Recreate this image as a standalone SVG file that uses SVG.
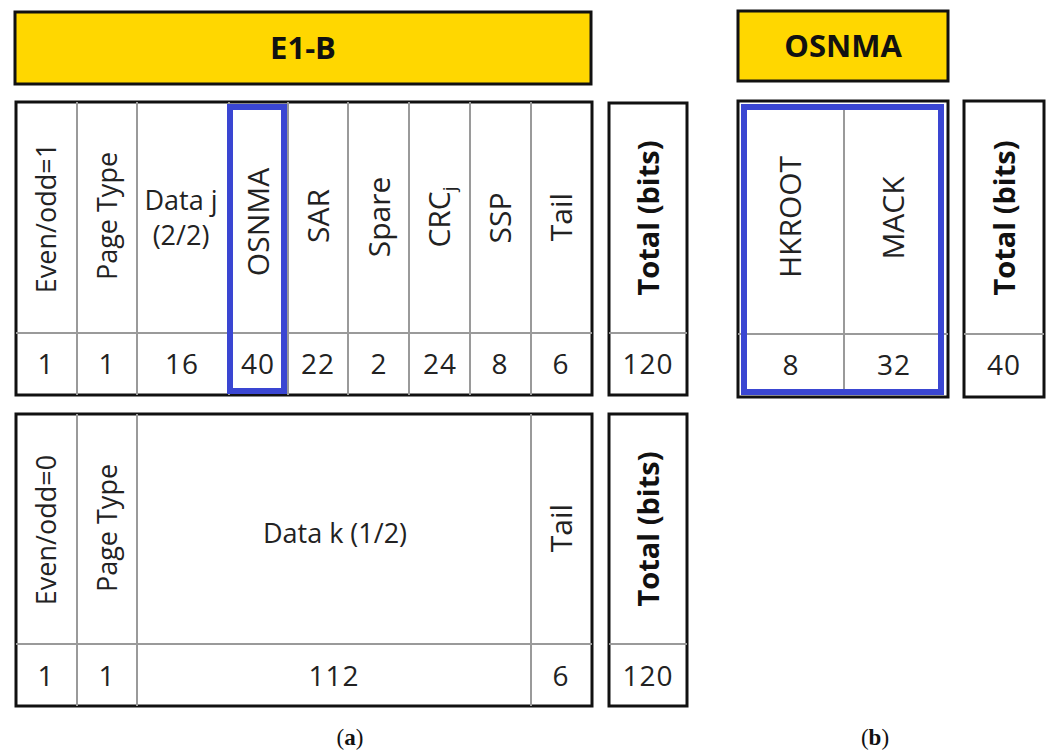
<svg xmlns="http://www.w3.org/2000/svg" width="1049" height="751" viewBox="0 0 1049 751">
  <style>
    .frame { fill: #ffffff; stroke: #111111; stroke-width: 3; }
    .title { fill: #ffd700; stroke: #111111; stroke-width: 3; }
    .div { stroke: #9a9a9a; stroke-width: 2; fill: none; }
    .hl { fill: none; stroke: #3a46d2; stroke-width: 6; }
    .t { font-family: "Open Sans", "Noto Sans", sans-serif; font-size: 27px; fill: #222222; text-anchor: middle; }
    .tl { font-family: "Open Sans", "Noto Sans", sans-serif; font-size: 30px; fill: #222222; text-anchor: middle; }
    .n { font-family: "Open Sans", "Noto Sans", sans-serif; font-size: 28px; letter-spacing: 1px; fill: #222222; text-anchor: middle; }
    .tb { font-family: "Open Sans", "Noto Sans", sans-serif; font-size: 29px; font-weight: bold; fill: #111111; text-anchor: middle; }
    .hd { font-family: "Open Sans", "Noto Sans", sans-serif; font-size: 31px; font-weight: bold; fill: #111111; text-anchor: middle; }
    .cap { font-family: "Liberation Serif", serif; font-size: 23px; fill: #111111; text-anchor: middle; }
  </style>

  <!-- Title bars -->
  <g id="title-e1b">
    <rect class="title" x="15" y="12" width="576" height="72"/>
    <text class="hd" x="303" y="59">E1-B</text>
  </g>
  <g id="title-osnma">
    <rect class="title" x="738" y="11" width="210" height="70"/>
    <text class="hd" x="843" y="57">OSNMA</text>
  </g>

  <!-- Odd page (a, top) -->
  <g id="odd-page">
    <rect class="frame" x="16" y="102" width="576" height="293"/>
    <path class="div" d="M16 333H592M77 102V395M137 102V395M229 102V395M288 102V395M348 102V395M409 102V395M470 102V395M531 102V395"/>
    <text class="t" transform="translate(56 218) rotate(-90)">Even/odd=1</text>
    <text class="t" transform="translate(117 216) rotate(-90)">Page Type</text>
    <text class="t" x="181" y="210">Data j</text>
    <text class="t" x="181" y="245">(2/2)</text>
    <text class="tl" transform="translate(269 222) rotate(-90)">OSNMA</text>
    <text class="tl" transform="translate(329 216) rotate(-90)">SAR</text>
    <text class="tl" transform="translate(390 217) rotate(-90)">Spare</text>
    <text class="tl" transform="translate(450 217) rotate(-90)">CRC<tspan font-size="19" dy="6">j</tspan></text>
    <text class="tl" transform="translate(511 218) rotate(-90)">SSP</text>
    <text class="tl" transform="translate(572 217) rotate(-90)">Tail</text>
    <text class="n" x="46" y="374">1</text>
    <text class="n" x="107" y="374">1</text>
    <text class="n" x="182" y="374">16</text>
    <text class="n" x="258" y="374">40</text>
    <text class="n" x="318" y="374">22</text>
    <text class="n" x="379" y="374">2</text>
    <text class="n" x="440" y="374">24</text>
    <text class="n" x="500" y="374">8</text>
    <text class="n" x="561" y="374">6</text>
    <rect class="hl" x="230" y="107" width="54" height="284"/>
  </g>
  <g id="odd-total">
    <rect class="frame" x="609" y="103" width="78" height="292"/>
    <path class="div" d="M609 333H687"/>
    <text class="tb" transform="translate(659 218) rotate(-90)">Total (bits)</text>
    <text class="n" x="648" y="374">120</text>
  </g>

  <!-- Even page (a, bottom) -->
  <g id="even-page">
    <rect class="frame" x="16" y="414" width="576" height="292"/>
    <path class="div" d="M16 644H592M77 414V706M137 414V706M531 414V706"/>
    <text class="t" transform="translate(56 530) rotate(-90)">Even/odd=0</text>
    <text class="t" transform="translate(117 528) rotate(-90)">Page Type</text>
    <text class="t" x="335" y="543">Data k (1/2)</text>
    <text class="tl" transform="translate(572 528) rotate(-90)">Tail</text>
    <text class="n" x="46" y="686">1</text>
    <text class="n" x="107" y="686">1</text>
    <text class="n" x="334" y="686">112</text>
    <text class="n" x="561" y="686">6</text>
  </g>
  <g id="even-total">
    <rect class="frame" x="609" y="414" width="78" height="292"/>
    <path class="div" d="M609 644H687"/>
    <text class="tb" transform="translate(659 529) rotate(-90)">Total (bits)</text>
    <text class="n" x="648" y="686">120</text>
  </g>

  <!-- OSNMA field (b) -->
  <g id="osnma-fields">
    <rect class="frame" x="738" y="101" width="210" height="296"/>
    <path class="div" d="M738 334H948M844 107V392"/>
    <text class="tl" transform="translate(801 217) rotate(-90)">HKROOT</text>
    <text class="tl" transform="translate(904 218) rotate(-90)">MACK</text>
    <text class="n" x="791" y="375">8</text>
    <text class="n" x="894" y="375">32</text>
    <rect class="hl" x="744" y="107" width="197" height="285"/>
  </g>
  <g id="osnma-total">
    <rect class="frame" x="964" y="101" width="80" height="296"/>
    <path class="div" d="M964 334H1044"/>
    <text class="tb" transform="translate(1015 218) rotate(-90)">Total (bits)</text>
    <text class="n" x="1004" y="375">40</text>
  </g>

  <!-- Captions -->
  <g id="captions">
    <text class="cap" x="350" y="745">(<tspan font-weight="bold">a</tspan>)</text>
    <text class="cap" x="875" y="745">(<tspan font-weight="bold">b</tspan>)</text>
  </g>
</svg>
